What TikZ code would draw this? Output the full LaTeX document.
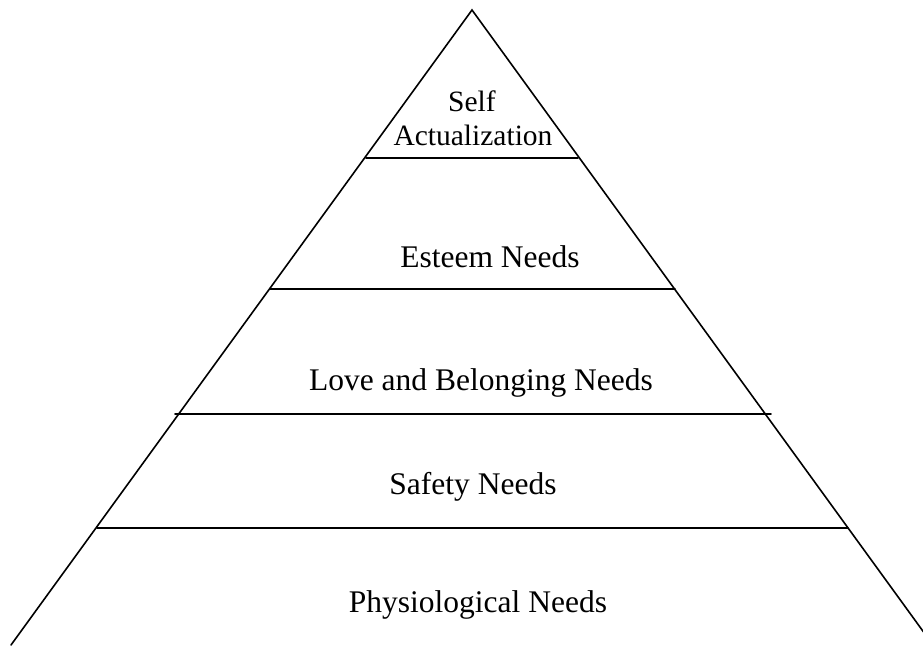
\documentclass[tikz,border=0pt]{standalone}
\usepackage{fontspec}
\setmainfont{Liberation Serif}
\begin{document}
\begin{tikzpicture}[x=1pt,y=-1pt,
  tier/.style={anchor=base,font=\fontsize{31.5}{36}\selectfont},
  toptier/.style={tier,font=\fontsize{29.5}{34}\selectfont},
  edge/.style={line width=1.6pt,line cap=round}]
\useasboundingbox (0,0) rectangle (923,645);
\clip (0,0) rectangle (923,645);
%% Pyramid
\coordinate (top) at (472,10);
\coordinate (bl) at (11,645);
\coordinate (br) at (933,645);
\draw[edge] (bl)--(top)--(br);
%% Levels
\draw[edge] (366,158)--(578,158);
\draw[edge] (270,289)--(675,289);
\draw[edge] (175,414)--(771,414);
\draw[edge] (97,528)--(848,528);
%% Labels
\node[toptier] (self) at (472,111) {Self};
\node[toptier] (actual) at (473,145) {Actualization};
\node[tier] (esteem) at (490,267) {Esteem Needs};
\node[tier] (love) at (481,390) {Love and Belonging Needs};
\node[tier] (safety) at (473,494) {Safety Needs};
\node[tier] (physio) at (478,612) {Physiological Needs};
\end{tikzpicture}
\end{document}
